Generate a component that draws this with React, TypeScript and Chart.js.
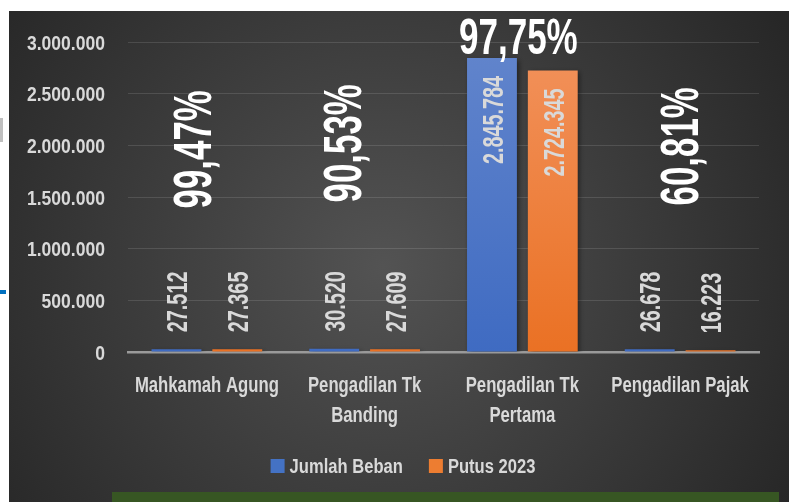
import React, { useEffect, useRef } from "react";
import { Chart, registerables } from "chart.js";

Chart.register(...registerables);

const categories: string[][] = [
  ["Mahkamah Agung"],
  ["Pengadilan Tk", "Banding"],
  ["Pengadilan Tk", "Pertama"],
  ["Pengadilan Pajak"],
];
const seriesNames = ["Jumlah Beban", "Putus 2023"];
const jumlahBeban = [27512, 30520, 2845784, 26678];
const putus2023 = [27365, 27609, 2724345, 16223];
const percentLabels = ["99,47%", "90,53%", "97,75%", "60,81%"];
const yMax = 3000000;
const yStep = 500000;

// layout-only tweaks for the percentage annotations
const pctDx = [-15, -23, -4, -1];
const pctDy = [4, -2, 0, 1];

const FONT = "'Liberation Sans', Arial, sans-serif";
const TXT = "#d9d9d9";
const CAP = 0.716;

const fmt = (v: number) => String(Math.round(v)).replace(/\B(?=(\d{3})+(?!\d))/g, ".");

type TOpts = {
  size: number;
  bold?: boolean;
  sx: number;
  align: CanvasTextAlign;
  rotate?: boolean;
  color: string;
};

// draws text whose cap-height is centred on (x, y); sx condenses along the text direction
function drawText(ctx: CanvasRenderingContext2D, text: string, x: number, y: number, o: TOpts) {
  ctx.save();
  ctx.font = `${o.bold ? "bold " : ""}${o.size}px ${FONT}`;
  ctx.fillStyle = o.color;
  ctx.textAlign = o.align;
  ctx.textBaseline = "alphabetic";
  ctx.translate(x, y);
  if (o.rotate) ctx.rotate(-Math.PI / 2);
  ctx.scale(o.sx, 1);
  ctx.fillText(text, 0, (o.size * CAP) / 2);
  ctx.restore();
}

function textWidth(ctx: CanvasRenderingContext2D, text: string, size: number, bold: boolean, sx: number) {
  ctx.save();
  ctx.font = `${bold ? "bold " : ""}${size}px ${FONT}`;
  const w = ctx.measureText(text).width * sx;
  ctx.restore();
  return w;
}

const bgPlugin = {
  id: "bg",
  beforeDraw(chart: any) {
    const { ctx, width, height } = chart;
    ctx.save();
    const g = ctx.createRadialGradient(width * 0.48, height * 0.52, 0, width * 0.48, height * 0.52, width * 0.6);
    g.addColorStop(0, "#535353");
    g.addColorStop(1, "#272727");
    ctx.fillStyle = g;
    ctx.fillRect(0, 0, width, height);
    ctx.restore();
  },
};

const shadowPlugin = {
  id: "shadow",
  beforeDatasetsDraw(chart: any) {
    const ctx = chart.ctx;
    ctx.save();
    ctx.shadowColor = "rgba(0,0,0,0.45)";
    ctx.shadowBlur = 5;
    ctx.shadowOffsetX = 2;
    ctx.shadowOffsetY = 2;
  },
  afterDatasetsDraw(chart: any) {
    chart.ctx.restore();
  },
};

const textPlugin = {
  id: "texts",
  afterDraw(chart: any) {
    const ctx = chart.ctx as CanvasRenderingContext2D;
    const xs = chart.scales.x;
    const ys = chart.scales.y;
    const area = chart.chartArea;

    // y tick labels
    ys.ticks.forEach((t: any) => {
      drawText(ctx, fmt(t.value), area.left - 23, ys.getPixelForValue(t.value), {
        size: 21, bold: true, sx: 0.835, align: "right", color: TXT,
      });
    });

    // category labels
    categories.forEach((lines, j) => {
      const cx = xs.getPixelForValue(j);
      lines.forEach((line, k) => {
        drawText(ctx, line, cx, area.bottom + 32.5 + k * 29.5, {
          size: 22, bold: true, sx: 0.76, align: "center", color: TXT,
        });
      });
    });

    // value labels
    chart.data.datasets.forEach((ds: any, i: number) => {
      const meta = chart.getDatasetMeta(i);
      meta.data.forEach((bar: any, j: number) => {
        const { x, y, base } = bar.getProps(["x", "y", "base"], true);
        const text = fmt(ds.data[j]);
        const w = textWidth(ctx, text, 30, true, 0.66);
        const inside = base - y > w + 40;
        drawText(ctx, text, x, inside ? y + 18 : y - 17, {
          size: 30, bold: true, sx: 0.66, align: inside ? "right" : "left", rotate: true, color: TXT,
        });
      });
    });

    // percentage annotations
    const blueMeta = chart.getDatasetMeta(0);
    percentLabels.forEach((t, j) => {
      const cx = xs.getPixelForValue(j) + pctDx[j];
      const tallest = Math.max(jumlahBeban[j], putus2023[j]);
      if (tallest > yMax * 0.6) {
        const top = blueMeta.data[j].y;
        drawText(ctx, t, cx, top - 22 + pctDy[j], {
          size: 50, bold: true, sx: 0.7, align: "center", color: "#ffffff",
        });
      } else {
        drawText(ctx, t, cx, ys.getPixelForValue(2000000) + pctDy[j], {
          size: 54, bold: true, sx: 0.645, align: "center", rotate: true, color: "#ffffff",
        });
      }
    });

    // legend
    const colors = ["#4472c4", "#ed7d31"];
    const box = 14, gapText = 5, gapItem = 26, lsize = 19.5, lsx = 0.85;
    const widths = seriesNames.map((n) => textWidth(ctx, n, lsize, true, lsx));
    const total = widths.reduce((a, b) => a + b, 0) + 2 * (box + gapText) + gapItem;
    let lx = chart.width / 2 + 4 - total / 2;
    const ly = area.bottom + 114;
    seriesNames.forEach((n, i) => {
      ctx.save();
      ctx.fillStyle = colors[i];
      ctx.fillRect(lx, ly - box / 2, box, box);
      ctx.restore();
      drawText(ctx, n, lx + box + gapText, ly, { size: lsize, bold: true, sx: lsx, align: "left", color: TXT });
      lx += box + gapText + widths[i] + gapItem;
    });
  },
};

function grad(chart: any, top: string, bottom: string) {
  const area = chart.chartArea;
  if (!area) return bottom;
  const g = chart.ctx.createLinearGradient(0, area.top, 0, area.bottom);
  g.addColorStop(0, top);
  g.addColorStop(1, bottom);
  return g;
}

export default function App() {
  const ref = useRef<HTMLCanvasElement>(null);
  useEffect(() => {
    if (!ref.current) return;
    const chart = new Chart(ref.current, {
      type: "bar",
      data: {
        labels: categories.map((c) => c.join(" ")),
        datasets: [
          {
            label: seriesNames[0],
            data: jumlahBeban,
            backgroundColor: (c: any) => grad(c.chart, "#6285cc", "#3f6bc2"),
            categoryPercentage: 0.771,
            barPercentage: 0.82,
          },
          {
            label: seriesNames[1],
            data: putus2023,
            backgroundColor: (c: any) => grad(c.chart, "#f2925c", "#ea7124"),
            categoryPercentage: 0.771,
            barPercentage: 0.82,
          },
        ],
      },
      options: {
        animation: false,
        responsive: true,
        maintainAspectRatio: false,
        layout: { padding: { top: 31, right: 30, left: 0, bottom: 54 } },
        plugins: {
          legend: { display: false },
          tooltip: { enabled: false },
        },
        scales: {
          x: {
            grid: { display: false, drawTicks: false },
            border: { display: true, color: "#9a9a9a", width: 2.5 },
            ticks: { display: false },
            afterFit: (s: any) => {
              s.height = 96;
            },
          },
          y: {
            min: 0,
            max: yMax,
            grid: { color: "rgba(255,255,255,0.12)", lineWidth: 1, drawTicks: false },
            border: { display: false },
            ticks: { display: false, stepSize: yStep },
            afterFit: (s: any) => {
              s.width = 119;
            },
          },
        },
      },
      plugins: [bgPlugin, shadowPlugin, textPlugin],
    } as any);
    return () => chart.destroy();
  }, []);

  return (
    <div>
      <div style={{ position: "absolute", left: 0, top: 118, width: 3, height: 24, background: "#bfbfbf" }} />
      <div style={{ position: "absolute", left: 0, top: 290, width: 6, height: 4, background: "#0070c0" }} />
      <div style={{ position: "absolute", left: 9, top: 11, width: 780, height: 491 }}>
        <canvas ref={ref} />
      </div>
      <div style={{ position: "absolute", left: 112, top: 492, width: 667, height: 10, background: "#375623" }} />
    </div>
  );
}
